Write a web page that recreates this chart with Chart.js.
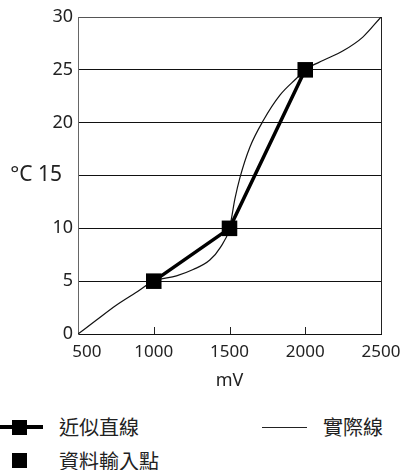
<!DOCTYPE html>
<html>
<head>
<meta charset="utf-8">
<script src="https://cdn.jsdelivr.net/npm/chart.js@4.4.1/dist/chart.umd.min.js"></script>
<style>
  body { margin: 0; background: #fff; width: 401px; height: 470px; position: relative; overflow: hidden; }
  #wrap { position: absolute; left: 0; top: 0; width: 401px; height: 400px; }
  .lg { position: absolute; font-family: "Noto Sans CJK TC", "Noto Sans", sans-serif; font-size: 20px; line-height: 20px; height: 20px; color: #222; white-space: nowrap; }
  .bar { position: absolute; background: #000; }
</style>
</head>
<body>
<div id="wrap"><canvas id="chart"></canvas></div>

<div class="bar" style="left:0;top:425px;width:43px;height:3.5px"></div>
<div class="bar" style="left:12px;top:420px;width:15px;height:15px"></div>
<div class="lg" style="left:59px;top:417px">近似直線</div>
<div class="bar" style="left:262px;top:427px;width:45px;height:1px;background:#222"></div>
<div class="lg" style="left:323px;top:417px">實際線</div>
<div class="bar" style="left:12px;top:453px;width:15px;height:15px"></div>
<div class="lg" style="left:59px;top:451px">資料輸入點</div>

<script>
// values
const xTicks = [500, 1000, 1500, 2000, 2500];
const yTicks = [0, 5, 10, 15, 20, 25, 30];
const inputMv = [1000, 1500, 2000];
const inputC = [5, 10, 25];
const actualMv = [500, 620, 750, 880, 1000, 1150, 1260, 1370, 1440, 1500, 1536, 1569, 1635, 1723, 1833, 1943, 2000, 2120, 2250, 2380, 2500];
const actualC = [0, 1.3, 2.7, 3.9, 5, 5.5, 6.1, 7.0, 8.2, 10, 12.8, 14.8, 17.7, 20.2, 22.6, 24.2, 25, 25.9, 26.8, 28.1, 30];
const innerTicks = [1000, 1500, 2000];

const FONT = '"Noto Sans", sans-serif';

const frame = {
  id: "frame",
  afterDraw(chart) {
    const { ctx, chartArea } = chart;
    const xs = chart.scales.x;
    ctx.save();
    ctx.strokeStyle = "#222";
    ctx.lineWidth = 1;
    ctx.beginPath();
    ctx.moveTo(chartArea.right + 0.5, chartArea.top);
    ctx.lineTo(chartArea.right + 0.5, chartArea.bottom);
    innerTicks.forEach((v) => {
      const px = Math.round(xs.getPixelForValue(v)) + 0.5;
      ctx.moveTo(px, chartArea.bottom);
      ctx.lineTo(px, chartArea.bottom - 7);
    });
    ctx.stroke();
    ctx.restore();
  },
};

new Chart(document.getElementById("chart"), {
  type: "line",
  data: {
    datasets: [
      {
        label: "近似直線",
        data: inputMv.map((x, i) => ({ x: x, y: inputC[i] })),
        borderColor: "#000",
        backgroundColor: "#000",
        borderWidth: 3.5,
        pointStyle: "rect",
        pointRadius: 11,
        pointBorderWidth: 0,
        tension: 0,
        order: 0,
      },
      {
        label: "實際線",
        data: actualMv.map((x, i) => ({ x: x, y: actualC[i] })),
        borderColor: "#111",
        borderWidth: 1.2,
        pointRadius: 0,
        cubicInterpolationMode: "monotone",
        order: 1,
      },
    ],
  },
  options: {
    responsive: true,
    maintainAspectRatio: false,
    animation: false,
    layout: { padding: { left: 0, right: 20, top: 17, bottom: 8 } },
    scales: {
      x: {
        type: "linear",
        min: 500,
        max: 2500,
        afterFit: (s) => { s.height = 58; s.paddingLeft = 0; s.paddingRight = 0; },
        afterBuildTicks: (s) => { s.ticks = xTicks.map((v) => ({ value: v })); },
        grid: { display: false, drawTicks: false },
        border: { display: true, color: "#111", width: 1 },
        ticks: {
          padding: 8,
          color: "#222",
          font: { family: FONT, size: 17 },
          callback: (v) => (v === 500 ? "    500" : String(v)),
        },
        title: {
          display: true,
          text: "mV",
          color: "#222",
          padding: 0,
          font: { family: FONT, size: 18 },
        },
      },
      y: {
        min: 0,
        max: 30,
        afterFit: (s) => { s.width = 78; s.paddingTop = 0; s.paddingBottom = 0; },
        afterBuildTicks: (s) => { s.ticks = yTicks.map((v) => ({ value: v })); },
        grid: {
          drawTicks: false,
          lineWidth: 1,
          color: (c) => (c.tick.value === 0 ? "rgba(0,0,0,0)" : c.tick.value === 30 ? "#555" : "#111"),
        },
        border: { display: true, color: "#666", width: 1 },
        ticks: {
          padding: 5,
          color: "#222",
          font: (c) => (c.tick && c.tick.value === 15
            ? { family: FONT, size: 21 }
            : { family: FONT, size: 18 }),
          callback: (v) => (v === 15 ? "°C 15  " : String(v)),
        },
      },
    },
    plugins: {
      legend: { display: false },
      tooltip: { enabled: false },
    },
  },
  plugins: [frame],
});
</script>
</body>
</html>
